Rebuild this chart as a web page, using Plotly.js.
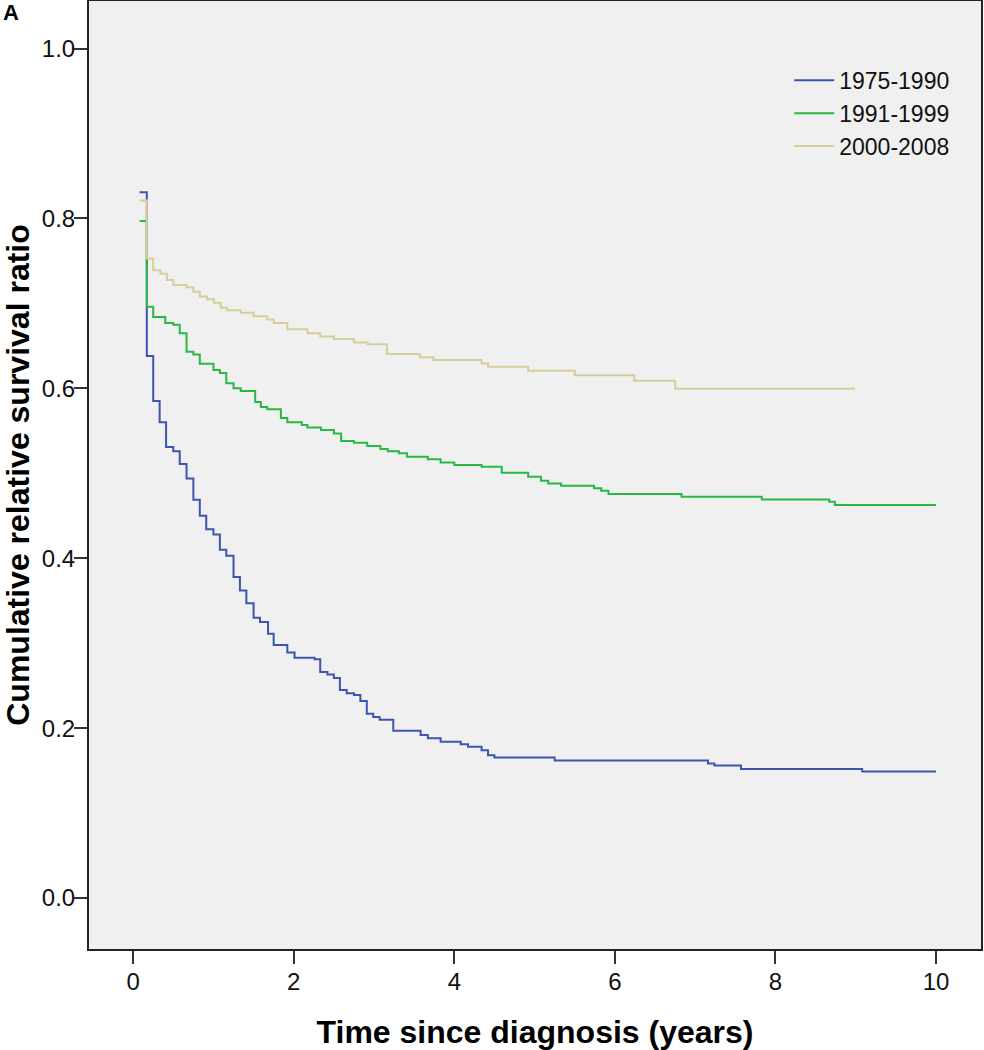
<!DOCTYPE html>
<html>
<head>
<meta charset="utf-8">
<script src="https://cdn.plot.ly/plotly-3.0.1.min.js"></script>
<style>html,body{margin:0;padding:0;background:#fff;}#chart{width:984px;height:1050px;}</style>
</head>
<body>
<div id="chart"></div>
<script>
// Series names
const seriesNames = ["1975-1990", "1991-1999", "2000-2008"];

// 1975-1990: step times (years) and cumulative relative survival after each step
const t1975 = [0.08, 0.17, 0.25, 0.33, 0.41, 0.50, 0.58, 0.665, 0.75, 0.83, 0.91, 1.00, 1.08, 1.16, 1.25, 1.33, 1.41, 1.50, 1.58, 1.68, 1.75, 1.92, 2.01, 2.26, 2.33, 2.42, 2.50, 2.575, 2.66, 2.75, 2.83, 2.91, 2.99, 3.07, 3.24, 3.58, 3.67, 3.83, 4.08, 4.17, 4.34, 4.42, 4.50, 5.25, 7.16, 7.24, 7.57, 9.08, 10.0];
const s1975 = [0.831, 0.638, 0.585, 0.560, 0.531, 0.526, 0.511, 0.494, 0.469, 0.450, 0.434, 0.428, 0.410, 0.403, 0.378, 0.362, 0.347, 0.330, 0.325, 0.311, 0.298, 0.289, 0.283, 0.281, 0.266, 0.263, 0.259, 0.245, 0.241, 0.239, 0.232, 0.217, 0.213, 0.210, 0.197, 0.192, 0.188, 0.184, 0.181, 0.178, 0.174, 0.168, 0.1655, 0.162, 0.1585, 0.156, 0.152, 0.149, 0.149];

// 1991-1999
const t1991 = [0.08, 0.17, 0.25, 0.40, 0.50, 0.58, 0.665, 0.75, 0.83, 1.00, 1.08, 1.16, 1.25, 1.34, 1.52, 1.59, 1.67, 1.84, 1.92, 2.10, 2.17, 2.34, 2.50, 2.59, 2.75, 2.915, 3.08, 3.17, 3.31, 3.41, 3.67, 3.83, 4.00, 4.34, 4.59, 4.92, 5.08, 5.17, 5.33, 5.74, 5.83, 5.92, 6.83, 7.83, 8.67, 8.74, 10.0];
const s1991 = [0.797, 0.696, 0.684, 0.677, 0.675, 0.665, 0.643, 0.640, 0.629, 0.6215, 0.618, 0.606, 0.600, 0.597, 0.584, 0.578, 0.5755, 0.565, 0.560, 0.557, 0.554, 0.551, 0.547, 0.538, 0.536, 0.532, 0.5285, 0.526, 0.5235, 0.5195, 0.5164, 0.5128, 0.5097, 0.5077, 0.5007, 0.496, 0.4912, 0.488, 0.4854, 0.4823, 0.4795, 0.4756, 0.4724, 0.4693, 0.4665, 0.4626, 0.4626];

// 2000-2008
const t2000 = [0.08, 0.17, 0.25, 0.34, 0.42, 0.50, 0.665, 0.75, 0.83, 0.92, 1.005, 1.09, 1.17, 1.34, 1.50, 1.67, 1.75, 1.92, 2.17, 2.33, 2.50, 2.75, 2.92, 3.16, 3.57, 3.74, 4.34, 4.42, 4.92, 5.50, 6.24, 6.75, 8.99];
const s2000 = [0.821, 0.753, 0.739, 0.735, 0.7275, 0.7216, 0.719, 0.7137, 0.708, 0.705, 0.7008, 0.695, 0.692, 0.689, 0.685, 0.681, 0.677, 0.6695, 0.665, 0.661, 0.658, 0.654, 0.652, 0.6404, 0.6365, 0.6333, 0.6294, 0.6255, 0.6207, 0.6153, 0.609, 0.5996, 0.5996];

// Tick values
const xTicks = [0, 2, 4, 6, 8, 10];
const yTicks = [0.0, 0.2, 0.4, 0.6, 0.8, 1.0];

const colors = ["#3b55b0", "#28b844", "#d5ce9a"];

const traces = [
  {x: t1975, y: s1975, name: seriesNames[0]},
  {x: t1991, y: s1991, name: seriesNames[1]},
  {x: t2000, y: s2000, name: seriesNames[2]}
].map((d, i) => ({
  x: d.x, y: d.y, name: d.name, type: "scatter", mode: "lines",
  line: {shape: "hv", color: colors[i], width: 2},
  hoverinfo: "skip"
}));

const baseFont = "Liberation Sans, Arial, sans-serif";

const layout = {
  width: 984, height: 1050,
  margin: {l: 89, r: 3, t: 1, b: 101, pad: 0},
  paper_bgcolor: "#ffffff",
  plot_bgcolor: "#f0f0f0",
  font: {family: baseFont, color: "#111"},
  showlegend: true,
  legend: {
    x: 0.785, y: 0.939, xanchor: "left", yanchor: "top",
    bgcolor: "rgba(0,0,0,0)", borderwidth: 0,
    font: {family: baseFont, size: 23, color: "#111"},
    itemwidth: 40, tracegroupgap: 0
  },
  xaxis: {
    range: [-0.55, 10.56], tickvals: xTicks, ticktext: xTicks.map(String),
    ticks: "outside", ticklen: 13, tickwidth: 2, tickcolor: "#333",
    ticklabelstandoff: -3,
    showgrid: false, zeroline: false, showline: true, mirror: true,
    linecolor: "#222", linewidth: 2,
    tickfont: {family: baseFont, size: 24, color: "#111"},
    title: {text: "Time since diagnosis (years)", standoff: 28,
            font: {family: baseFont, size: 32, weight: "bold", color: "#000"}},
    fixedrange: true
  },
  yaxis: {
    range: [-0.06, 1.056], tickvals: yTicks, ticktext: yTicks.map(v => v.toFixed(1)),
    ticks: "outside", ticklen: 13, tickwidth: 2, tickcolor: "#333",
    ticklabelstandoff: -6,
    showgrid: false, zeroline: false, showline: true, mirror: true,
    linecolor: "#222", linewidth: 2,
    tickfont: {family: baseFont, size: 24, color: "#111"},
    title: {text: "Cumulative relative survival ratio", standoff: 4,
            font: {family: baseFont, size: 32, weight: "bold", color: "#000"}},
    fixedrange: true
  },
  annotations: [{
    text: "A", xref: "paper", yref: "paper", x: -0.0985, y: 0.988,
    xanchor: "left", yanchor: "middle", showarrow: false,
    font: {family: baseFont, size: 22, weight: "bold", color: "#000"}
  }]
};

Plotly.newPlot("chart", traces, layout, {displayModeBar: false, staticPlot: true});
</script>
</body>
</html>
